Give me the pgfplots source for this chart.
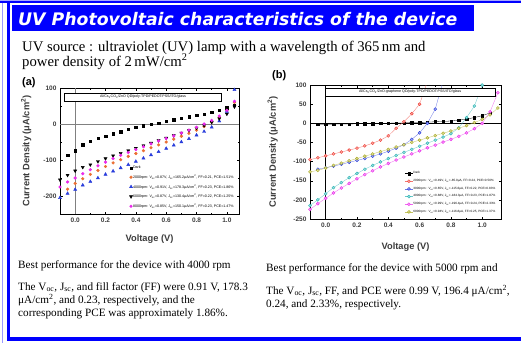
\documentclass[border=0pt]{standalone}
\usepackage{fontspec}
\setmainfont{Liberation Serif}
\setsansfont{Liberation Sans}
\newfontfamily\titlefont{DejaVu Sans}
\usepackage{pgfplots}
\pgfplotsset{compat=1.18}
\definecolor{slideblue}{RGB}{0,0,255}
\definecolor{axgray}{RGB}{60,60,60}
\definecolor{cA}{RGB}{235,110,50}
\definecolor{cB}{RGB}{40,60,220}
\definecolor{cC}{RGB}{40,180,180}
\definecolor{cM}{RGB}{235,40,235}
\definecolor{cR}{RGB}{240,60,50}
\definecolor{cO}{RGB}{170,170,30}

\pgfplotstableread{
x y
-0.05 -87
0.00 -74
0.05 -58
0.10 -48
0.15 -40
0.20 -34
0.25 -27
0.30 -21
0.35 -15
0.40 -9
0.45 -5
0.50 -1
0.55 3
0.60 8
0.65 12
0.70 16
0.75 20
0.80 24
0.85 28
0.90 33
0.95 38
1.00 45
1.05 53
}\aK
\pgfplotstableread{
x y
-0.05 -181
0.00 -165
0.05 -152
0.10 -140
0.15 -129
0.20 -118
0.25 -108
0.30 -99
0.35 -90
0.40 -82
0.45 -74
0.50 -66
0.55 -58
0.60 -50
0.65 -42
0.70 -34
0.75 -26
0.80 -17
0.85 -7
0.90 5
0.95 18
1.00 38
1.05 60
}\aA
\pgfplotstableread{
x y
-0.10 -205
-0.05 -193
0.00 -182
0.05 -170
0.10 -160
0.15 -150
0.20 -140
0.25 -131
0.30 -122
0.35 -113
0.40 -104
0.45 -95
0.50 -86
0.55 -77
0.60 -68
0.65 -59
0.70 -50
0.75 -41
0.80 -31
0.85 -21
0.90 -9
0.95 8
1.00 35
1.05 95
}\aB
\pgfplotstableread{
x y
-0.10 -155
-0.05 -142
0.00 -130
0.05 -120
0.10 -113
0.15 -104
0.20 -96
0.25 -88
0.30 -81
0.35 -74
0.40 -67
0.45 -60
0.50 -53
0.55 -46
0.60 -39
0.65 -32
0.70 -25
0.75 -18
0.80 -11
0.85 -4
0.90 5
0.95 15
1.00 28
1.05 48
}\aC
\pgfplotstableread{
x y
-0.10 -175
-0.05 -161
0.00 -150
0.05 -138
0.10 -127
0.15 -116
0.20 -106
0.25 -96
0.30 -87
0.35 -79
0.40 -71
0.45 -63
0.50 -55
0.55 -47
0.60 -40
0.65 -33
0.70 -25
0.75 -17
0.80 -9
0.85 0
0.90 10
0.95 22
1.00 38
1.05 63
}\aM

\pgfplotstableread{
x y
-0.05 -3
0.00 -3
0.05 -2
0.10 -2
0.15 -2
0.20 -1
0.25 -1
0.30 -1
0.35 0
0.40 0
0.45 1
0.50 1
0.55 2
0.60 2
0.65 3
0.70 4
0.75 5
0.80 6
0.85 8
0.90 11
0.95 15
1.00 20
1.05 27
}\bK
\pgfplotstableread{
x y
-0.10 -95
-0.05 -90
0.00 -85
0.05 -80
0.10 -75
0.15 -70
0.20 -65
0.25 -59
0.30 -52
0.35 -44
0.40 -33
0.45 -13
0.50 4
0.55 25
0.60 50
0.65 110
}\bR
\pgfplotstableread{
x y
-0.05 -120
0.00 -116
0.05 -112
0.10 -107
0.15 -102
0.20 -97
0.25 -92
0.30 -86
0.35 -80
0.40 -73
0.45 -65
0.50 -56
0.55 -42
0.60 -25
0.65 0
0.70 37
0.75 110
}\bB
\pgfplotstableread{
x y
-0.10 -215
-0.05 -200
0.00 -184
0.05 -168
0.10 -155
0.15 -142
0.20 -131
0.25 -120
0.30 -110
0.35 -101
0.40 -92
0.45 -84
0.50 -76
0.55 -68
0.60 -60
0.65 -52
0.70 -44
0.75 -36
0.80 -27
0.85 -12
0.90 15
0.95 45
1.00 100
}\bC
\pgfplotstableread{
x y
-0.10 -225
-0.05 -210
0.00 -196
0.05 -182
0.10 -169
0.15 -157
0.20 -145
0.25 -134
0.30 -124
0.35 -114
0.40 -105
0.45 -96
0.50 -88
0.55 -80
0.60 -72
0.65 -64
0.70 -57
0.75 -49
0.80 -42
0.85 -34
0.90 -25
0.95 -14
1.00 0
1.05 30
1.10 80
}\bM
\pgfplotstableread{
x y
-0.10 -127
-0.05 -123
0.00 -117
0.05 -110
0.10 -104
0.15 -98
0.20 -92
0.25 -86
0.30 -80
0.35 -74
0.40 -68
0.45 -62
0.50 -56
0.55 -50
0.60 -44
0.65 -38
0.70 -32
0.75 -26
0.80 -20
0.85 -13
0.90 -6
0.95 2
1.00 10
1.05 22
1.10 40
}\bO

\pgfplotsset{
  panel/.style={
    scale only axis, anchor=south west,
    axis line style={black, line width=0.8pt},
    tick style={black, line width=0.4pt},
    tick align=inside, major tick length=2.5pt, minor tick length=1.5pt,
    ticklabel style={font=\sffamily\bfseries\fontsize{6.5}{7}\selectfont, text=axgray},
    /pgf/number format/assume math mode=true,
    label style={font=\sffamily\bfseries\fontsize{9.3}{10}\selectfont, text=axgray},
    xtick={0,0.2,0.4,0.6,0.8,1.0},
    minor x tick num=1, minor y tick num=1,
    xticklabel style={/pgf/number format/.cd, fixed, fixed zerofill, precision=1},
    yticklabel style={/pgf/number format/.cd, fixed, precision=0},
    xlabel={Voltage (V)},
    ylabel={Current Density (μA/cm\textsuperscript{2})},
    legend cell align=left,
    legend style={draw=none, fill=none,
      at={(0.99,0.02)}, anchor=south east,
      nodes={inner sep=0.4pt}},
    legend image code/.code={\draw[mark repeat=2,mark phase=2,##1] plot coordinates {(0pt,0pt) (4pt,0pt) (8pt,0pt)};},
  },
  mk/.style={mark size=1.4pt, mark options={draw=#1, fill=#1}},
  bmk/.style={color=#1!70, line width=0.3pt, mark=*, mark size=1.5pt,
    mark options={draw=#1, fill=#1!45, line width=0.4pt}},
}

\begin{document}
\begin{tikzpicture}
\begin{scope}[x=1pt,y=-1pt]
\path[use as bounding box] (0,0) rectangle (521,343);
\fill[white] (0,0) rectangle (521,343);
% frame
\fill[slideblue!35] (0,0) rectangle (521,1.2);
\fill[slideblue] (0,1.2) rectangle (521,3);
\fill[slideblue!40] (2,3) rectangle (3,343);
\fill[slideblue] (6.5,3) rectangle (10,341);
\fill[slideblue] (6.5,337) rectangle (521,341);
% banner
\fill[slideblue] (12,5) rectangle (474,31);
\node[anchor=base west, inner sep=0, text=white] at (18,25)
  {\titlefont\bfseries\itshape\fontsize{17.3}{19}\selectfont UV Photovoltaic characteristics of the device};
% subtitle
\node[anchor=base west, inner sep=0] at (22,51)
  {\fontsize{14.7}{16}\selectfont UV source : ultraviolet (UV) lamp with a wavelength of 365\,nm and};
\node[anchor=base west, inner sep=0] at (22,66)
  {\fontsize{14.7}{16}\selectfont power density of 2\,mW/cm\textsuperscript{2}};
% panel labels
\node[anchor=base west, inner sep=0] at (22,85) {\sffamily\bfseries\fontsize{11}{12}\selectfont (a)};
\node[anchor=base west, inner sep=0] at (272,78) {\sffamily\bfseries\fontsize{11}{12}\selectfont (b)};
% bottom texts
\begin{scope}[every node/.style={anchor=base west, inner sep=0, font=\fontsize{11.2}{13}\selectfont}]
\node at (18,268) {Best performance for the device with 4000 rpm};
\node at (18,290) {The V\textsubscript{oc}, J\textsubscript{sc}, and fill factor (FF) were 0.91 V, 178.3};
\node at (18,303) {μA/cm\textsuperscript{2}, and 0.23, respectively, and the};
\node at (18,316) {corresponding PCE was approximately 1.86\%.};
\node at (266,271) {Best performance for the device with 5000 rpm and};
\node at (266,294) {The V\textsubscript{oc}, J\textsubscript{sc}, FF, and PCE were 0.99 V, 196.4 μA/cm\textsuperscript{2},};
\node at (266,307) {0.24, and 2.33\%, respectively.};
\end{scope}
\end{scope}

% ---------------- panel (a)
\begin{axis}[panel, at={(60pt,-214pt)}, width=179pt, height=126pt,
  xmin=-0.1, xmax=1.08, ymin=-250, ymax=100,
  ytick={-200,-100,0,100},
  xlabel style={at={(axis description cs:0.5,-0.14)}, anchor=north},
  ylabel style={at={(axis description cs:-0.14,0.5)}, anchor=south},
  legend style={font=\sffamily\fontsize{3.6}{4}\selectfont, row sep=3.6pt},
]
\draw[gray, line width=0.5pt] (axis cs:0,-250) -- (axis cs:0,100);
\draw[gray, line width=0.5pt] (axis cs:-0.1,0) -- (axis cs:1.08,0);
\addplot[only marks, mark=square*, mk=black, mark size=1.2pt] table {\aK};
\addplot[only marks, mark=*, mk=cA] table {\aA};
\addplot[only marks, mark=triangle*, mk=cB, mark size=1.8pt] table {\aB};
\addplot[only marks, mark=triangle*, mk=cC, mark size=1.8pt, mark options={rotate=180}] table {\aC};
\addplot[only marks, mark=*, mk=cM] table {\aM};
\legend{{Dark},
{2000rpm: V\textsubscript{oc}=0.87V, J\textsubscript{sc}=165.2μA/cm\textsuperscript{2}, FF=0.21, PCE=1.51\%},
{4000rpm: V\textsubscript{oc}=0.91V, J\textsubscript{sc}=178.3μA/cm\textsuperscript{2}, FF=0.23, PCE=1.86\%},
{6000rpm: V\textsubscript{oc}=0.87V, J\textsubscript{sc}=130.4μA/cm\textsuperscript{2}, FF=0.22, PCE=1.25\%},
{8000rpm: V\textsubscript{oc}=0.85V, J\textsubscript{sc}=150.1μA/cm\textsuperscript{2}, FF=0.23, PCE=1.47\%}}
\node[draw, fill=white, line width=0.5pt, minimum width=157pt, minimum height=8pt, inner sep=0.5pt,
  font=\sffamily\fontsize{3.6}{4}\selectfont] at (rel axis cs:0.464,0.93)
  {Al/Cs\textsubscript{2}CO\textsubscript{3}/ZnO QD/poly-TPD/PEDOT:PSS/ITO/glass};
\end{axis}

% ---------------- panel (b)
\begin{axis}[panel, at={(310pt,-219pt)}, width=191pt, height=134pt,
  xmin=-0.1, xmax=1.12, ymin=-250, ymax=100,
  ytick={-250,-200,...,100},
  minor y tick num=0,
  xlabel style={at={(axis description cs:0.5,-0.15)}, anchor=north},
  ylabel style={at={(axis description cs:-0.15,0.5)}, anchor=south},
  legend style={font=\sffamily\fontsize{3.1}{3.5}\selectfont, row sep=3.2pt},
]
\draw[black, line width=0.8pt] (axis cs:0,-250) -- (axis cs:0,100);
\draw[black, line width=0.8pt] (axis cs:-0.1,0) -- (axis cs:1.12,0);
\addplot[color=black, line width=0.3pt, mark=square*, mark size=1.2pt, mark options={fill=black}] table {\bK};
\addplot[bmk=cR] table {\bR};
\addplot[bmk=cB] table {\bB};
\addplot[bmk=cC] table {\bC};
\addplot[bmk=cM] table {\bM};
\addplot[bmk=cO] table {\bO};
\legend{{Dark},
{2000rpm : V\textsubscript{oc}=0.49V, J\textsubscript{sc}=-85.0μA, FF=0.24, PCE=0.50\%},
{3000rpm : V\textsubscript{oc}=0.65V, J\textsubscript{sc}=-115.6μA, FF=0.22, PCE=0.83\%},
{4000rpm : V\textsubscript{oc}=0.88V, J\textsubscript{sc}=-184.3μA, FF=0.23, PCE=1.87\%},
{5000rpm : V\textsubscript{oc}=0.99V, J\textsubscript{sc}=-196.4μA, FF=0.24, PCE=2.33\%},
{6000rpm : V\textsubscript{oc}=0.94V, J\textsubscript{sc}=-116.8μA, FF=0.25, PCE=1.37\%}}
\node[draw, fill=white, line width=0.5pt, minimum width=170pt, minimum height=8pt, inner sep=0.5pt,
  font=\sffamily\fontsize{3.6}{4}\selectfont] at (rel axis cs:0.524,0.948)
  {Al/Cs\textsubscript{2}CO\textsubscript{3}/ZnO-graphene QD/poly-TPD/PEDOT:PSS/ITO/glass};
\end{axis}
\end{tikzpicture}
\end{document}
